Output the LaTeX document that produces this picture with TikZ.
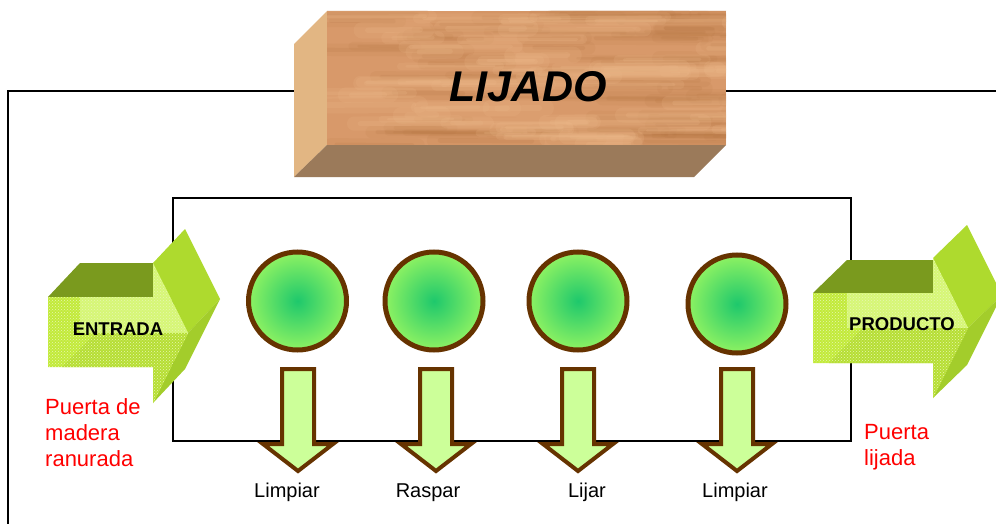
\documentclass[tikz,border=0pt]{standalone}
\usepackage{fontspec}
\setmainfont{Liberation Sans}
\usetikzlibrary{patterns}
\definecolor{woodbase}{HTML}{D8996A}
\definecolor{wooddark}{HTML}{B47440}
\definecolor{woodlight}{HTML}{EDB98A}
\definecolor{woodside}{HTML}{E2B683}
\definecolor{woodbottom}{HTML}{9B7A5A}
\definecolor{arrowtop}{HTML}{7A9A1E}
\definecolor{arrowside}{HTML}{AEDA2E}
\definecolor{arrowfront}{HTML}{C2EA3A}
\definecolor{arrowlight}{HTML}{D6F676}
\definecolor{arrowshade}{HTML}{B6DE34}
\definecolor{stepbrown}{HTML}{663300}
\definecolor{stepcore}{HTML}{1EC86C}
\definecolor{steprim}{HTML}{8EF262}
\definecolor{downfill}{HTML}{CCFF99}
\definecolor{notered}{HTML}{FF0000}
\tikzset{
  frame/.style={draw=black, line width=1.8pt},
  stepdisc/.style={circle, draw=stepbrown, line width=5pt, minimum size=98pt,
    inner sep=0pt, inner color=stepcore, outer color=steprim},
  downarrow/.style={draw=stepbrown, fill=downfill, line width=4pt, line join=miter},
  steplabel/.style={font=\fontsize{20}{24}\selectfont, anchor=base, inner sep=0pt},
  note/.style={font=\fontsize{22}{26}\selectfont, text=notered, anchor=base west, inner sep=0pt},
  flowlabel/.style={font=\bfseries\fontsize{18.5}{22}\selectfont, anchor=base, inner sep=0pt},
  mesh/.style={pattern=crosshatch dots, pattern color=white!60!arrowfront},
  grain/.style={line cap=round}
}
\begin{document}
\begin{tikzpicture}[x=1pt, y=-1pt]
\useasboundingbox (0,0) rectangle (996,524);
\clip (0,0) rectangle (996,524);

% outer frame (open at the bottom and right)
\coordinate (fbl) at (8,524);
\coordinate (ftl) at (8,91);
\coordinate (ftr) at (996,91);
\draw[frame] (fbl) -- (ftl) -- (ftr);

% inner process frame
\node[draw=black, line width=1.6pt, minimum width=678pt, minimum height=243pt,
      inner sep=0pt, anchor=north west] (proc) at (172,197) {};

% wooden block with the title
\fill[woodside] (294,44) -- (327,11) -- (327,145) -- (294,177) -- cycle;
\fill[woodbottom] (327,145) -- (726,145) -- (694,177) -- (294,177) -- cycle;
\begin{scope}
  \clip (327,11) rectangle (726,145);
  \fill[woodbase] (327,11) rectangle (726,145);
  \pgfmathsetseed{17}
  % soft grain: each streak is a wide faint stroke under a narrower one
  \foreach \i in {1,...,70}{
    \pgfmathsetmacro\wx{300+rnd*430}
    \pgfmathsetmacro\wy{11+rnd*134}
    \pgfmathsetmacro\wl{40+rnd*120}
    \pgfmathsetmacro\ww{2+rnd*3}
    \draw[grain, wooddark, opacity=0.10, line width=3*\ww pt] (\wx,\wy) -- ++(\wl,0.6);
    \draw[grain, wooddark, opacity=0.16, line width=\ww pt] (\wx+6,\wy) -- ++(\wl-12,0.6);
  }
  \foreach \i in {1,...,60}{
    \pgfmathsetmacro\wx{300+rnd*430}
    \pgfmathsetmacro\wy{11+rnd*134}
    \pgfmathsetmacro\wl{40+rnd*120}
    \pgfmathsetmacro\ww{2+rnd*4}
    \draw[grain, woodlight, opacity=0.18, line width=3*\ww pt] (\wx,\wy) -- ++(\wl,-0.5);
    \draw[grain, woodlight, opacity=0.22, line width=\ww pt] (\wx+6,\wy) -- ++(\wl-12,-0.5);
  }
\end{scope}
\node[font=\bfseries\itshape\fontsize{43}{50}\selectfont, anchor=base, inner sep=0pt]
  (title) at (528.5,102) {LIJADO};

% entry arrow (3D)
\fill[arrowtop] (48,297) -- (80,263) -- (185,263) -- (153,297) -- cycle;
\fill[arrowside] (153,263) -- (185,229) -- (220,299) -- (188,333) -- cycle;
\fill[arrowside!94!black] (188,333) -- (220,299) -- (185,369) -- (153,403) -- cycle;
\begin{scope}
  \clip (48,297) -- (153,297) -- (153,263) -- (188,333) -- (153,403) -- (153,367) -- (48,367) -- cycle;
  \fill[arrowfront] (40,250) rectangle (200,410);
  \fill[arrowlight] (80,250) rectangle (200,333);
  \fill[arrowshade] (62,367) -- (96,333) -- (200,333) -- (200,410) -- (40,410) -- cycle;
  \fill[mesh] (40,250) rectangle (200,410);
\end{scope}
\node[flowlabel] (entrada) at (118,335) {ENTRADA};

% output arrow (3D)
\fill[arrowtop] (813,293) -- (847,260) -- (967,260) -- (933,293) -- cycle;
\fill[arrowside] (933,258) -- (967,225) -- (1002,295) -- (968,328) -- cycle;
\fill[arrowside!94!black] (968,328) -- (1002,295) -- (967,365) -- (933,398) -- cycle;
\begin{scope}
  \clip (813,293) -- (933,293) -- (933,258) -- (968,328) -- (933,398) -- (933,363) -- (813,363) -- cycle;
  \fill[arrowfront] (800,250) rectangle (980,410);
  \fill[arrowlight] (847,250) rectangle (980,328);
  \fill[arrowshade] (829,363) -- (863,328) -- (980,328) -- (980,410) -- (800,410) -- cycle;
  \fill[mesh] (800,250) rectangle (980,410);
\end{scope}
\node[flowlabel] (producto) at (902,330) {PRODUCTO};

% process steps
\node[stepdisc] (s1) at (297.5,301) {};
\node[stepdisc] (s2) at (434,301) {};
\node[stepdisc] (s3) at (578,301) {};
\node[stepdisc] (s4) at (737,304) {};

\coordinate (d1) at (298,369);
\coordinate (d2) at (436,369);
\coordinate (d3) at (578,369);
\coordinate (d4) at (737,369);
\foreach \d in {d1,d2,d3,d4}{
  \draw[downarrow] (\d) ++(-16,0) -- ++(0,75) -- ++(-19,0) -- ++(35,27)
    -- ++(35,-27) -- ++(-19,0) -- ++(0,-75) -- cycle;
}

\node[steplabel] (l1) at (287,497) {Limpiar};
\node[steplabel] (l2) at (428,497) {Raspar};
\node[steplabel] (l3) at (587,497) {Lijar};
\node[steplabel] (l4) at (735,497) {Limpiar};

% notes
\node[note] (in1) at (45,414) {Puerta de};
\node[note] (in2) at (45,440) {madera};
\node[note] (in3) at (45,466) {ranurada};
\node[note] (out1) at (864,439) {Puerta};
\node[note] (out2) at (864,465) {lijada};
\end{tikzpicture}
\end{document}
